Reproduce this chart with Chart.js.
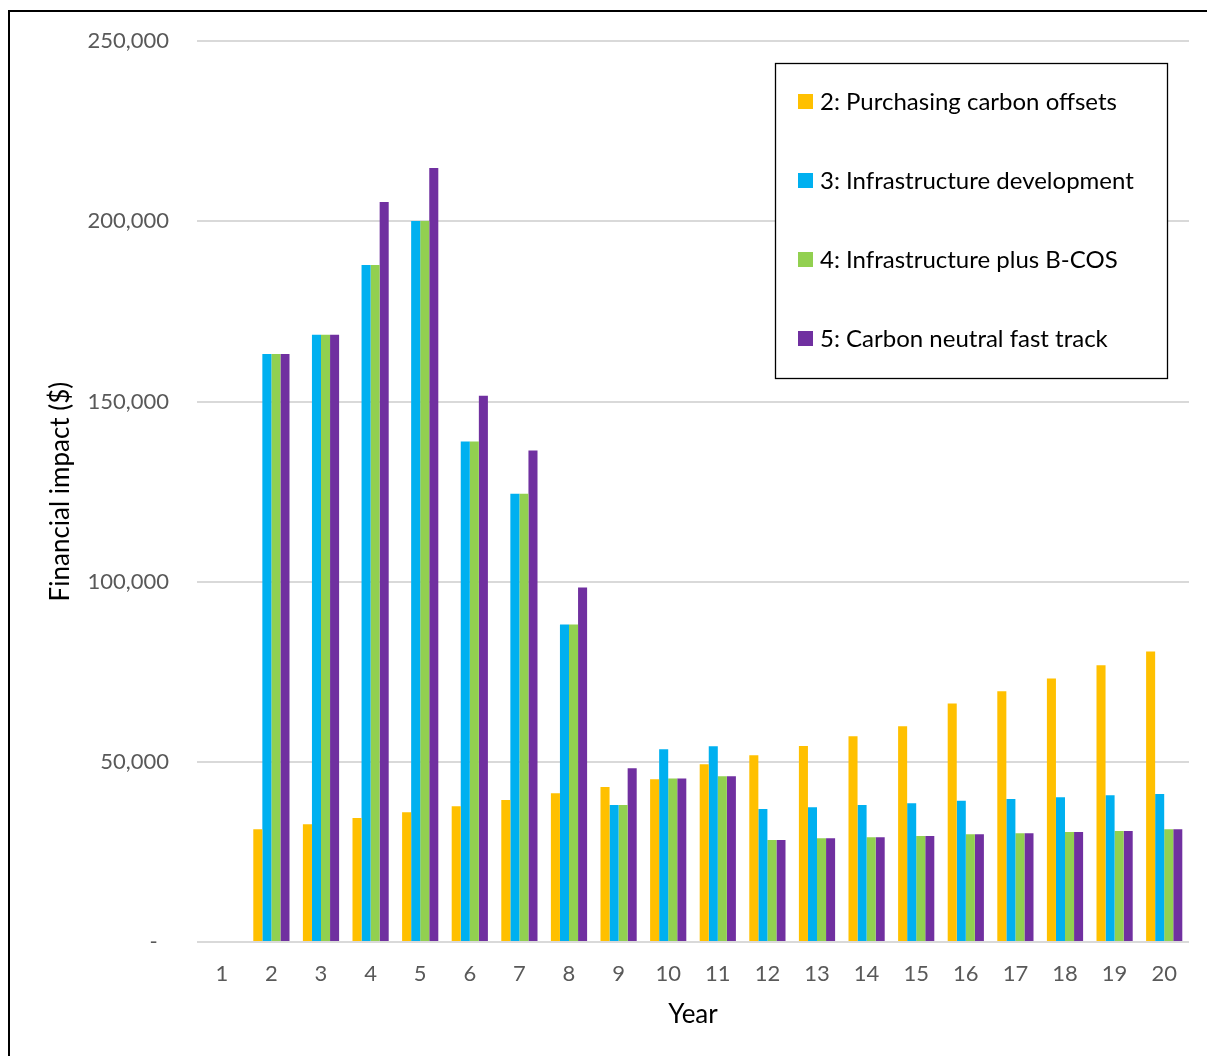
<!DOCTYPE html>
<html>
<head>
<meta charset="utf-8">
<script src="https://cdn.jsdelivr.net/npm/chart.js@4.4.1/dist/chart.umd.min.js"></script>
<style>
  html, body { margin: 0; padding: 0; background: #fff; overflow: hidden; }
  #wrap { position: relative; width: 1207px; height: 1056px; overflow: hidden; }
  #frame {
    position: absolute; left: 8px; top: 10px; width: 1300px; height: 1200px;
    border-left: 2px solid #000; border-top: 2px solid #000; pointer-events: none;
  }
</style>
</head>
<body>
<div id="wrap">
  <canvas id="chart"></canvas>
  <div id="frame"></div>
</div>
<script>
// Financial impact per year for four scenarios

const years = ['1', '2', '3', '4', '5', '6', '7', '8', '9', '10',
  '11', '12', '13', '14', '15', '16', '17', '18', '19', '20'];

const offsets = [0, 31300, 32700, 34400, 36000, 37700, 39400, 41300, 43000, 45200,
  49300, 51800, 54400, 57100, 59900, 66200, 69600, 73100, 76800, 80600];

const infrastructure = [0, 163200, 168500, 187900, 200100, 138900, 124400, 88100, 38000, 53500,
  54300, 36900, 37400, 38000, 38500, 39200, 39700, 40200, 40700, 41100];

const infraPlusBcos = [0, 163200, 168500, 187900, 200100, 138900, 124400, 88100, 38000, 45400,
  46000, 28300, 28800, 29100, 29400, 29900, 30200, 30500, 30800, 31300];

const fastTrack = [0, 163200, 168500, 205400, 214800, 151600, 136400, 98400, 48200, 45400,
  46000, 28300, 28800, 29100, 29400, 29900, 30200, 30500, 30800, 31300];

const seriesNames = [
  '2: Purchasing carbon offsets',
  '3: Infrastructure development',
  '4: Infrastructure plus B-COS',
  '5: Carbon neutral fast track'
];
const seriesColors = ['#FFC000', '#00B0F0', '#92D050', '#7030A0'];

const FONT = 'Lato, "Open Sans", sans-serif';

// legend drawn as a boxed panel inside the plot, like the original
const boxLegend = {
  id: 'boxLegend',
  afterDraw(chart) {
    const ctx = chart.ctx;
    ctx.save();
    ctx.strokeStyle = '#000';
    ctx.lineWidth = 1.3;
    ctx.fillStyle = '#fff';
    ctx.fillRect(775, 63, 392, 315);
    ctx.strokeRect(775.5, 63.5, 392, 315);
    ctx.font = '24px ' + FONT;
    ctx.textBaseline = 'middle';
    chart.data.datasets.forEach((ds, i) => {
      const cy = 101 + i * 79;
      ctx.fillStyle = ds.backgroundColor;
      ctx.fillRect(798, cy - 7, 15, 15);
      ctx.fillStyle = '#000';
      ctx.fillText(ds.label, 820, cy + 1);
    });
    ctx.restore();
  }
};

const ctx = document.getElementById('chart').getContext('2d');

new Chart(ctx, {
  type: 'bar',
  data: {
    labels: years,
    datasets: [offsets, infrastructure, infraPlusBcos, fastTrack].map((d, i) => ({
      label: seriesNames[i],
      data: d,
      backgroundColor: seriesColors[i],
      borderWidth: 0,
      barPercentage: 1.0,
      categoryPercentage: 0.73
    }))
  },
  options: {
    responsive: true,
    maintainAspectRatio: false,
    animation: false,
    layout: { padding: { top: 40, right: 18, bottom: 0, left: 0 } },
    plugins: {
      legend: { display: false },
      tooltip: { enabled: false }
    },
    scales: {
      x: {
        grid: { display: false, drawTicks: false },
        border: { display: false },
        ticks: {
          color: '#595959',
          font: { family: FONT, size: 22 },
          padding: 19,
          maxRotation: 0,
          autoSkip: false
        },
        title: {
          display: true,
          text: 'Year',
          color: '#000',
          font: { family: FONT, size: 26 },
          padding: { top: 0, bottom: 26 }
        },
        afterFit(scale) { scale.height = 114; }
      },
      y: {
        min: 0,
        max: 250000,
        grid: { color: '#d9d9d9', lineWidth: 2, drawTicks: false },
        border: { display: false },
        ticks: {
          stepSize: 50000,
          color: '#595959',
          font: { family: FONT, size: 22 },
          padding: 28,
          callback: (v) => (v === 0 ? '-  ' : v.toLocaleString('en-US'))
        },
        title: {
          display: true,
          text: 'Financial impact ($)',
          color: '#000',
          font: { family: FONT, size: 26 },
          padding: { top: 45, bottom: 0 }
        },
        afterFit(scale) { scale.width = 197; }
      }
    }
  },
  plugins: [boxLegend]
});
</script>
</body>
</html>
